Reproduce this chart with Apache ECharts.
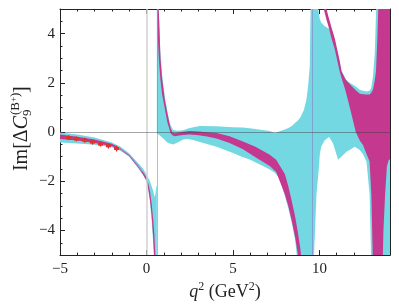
<!DOCTYPE html>
<html><head><meta charset="utf-8">
<script src="https://cdn.jsdelivr.net/npm/echarts@6/dist/echarts.min.js"></script>
<style>html,body{margin:0;padding:0;background:#fff}#c{width:399px;height:308px}</style>
</head><body><div id="c"></div>
<script>
// ---- axis ranges & tick labels ----
const X_MIN = -5, X_MAX = 14.08, Y_MIN = -5, Y_MAX = 5;
const xTickLabels = [-5, 0, 5, 10];
const yTickLabels = [-4, -2, 0, 2, 4];

// ---- cyan band, left branch (q2 below the omega) ----
const cyanLeftX  = [-5, -4, -3, -2, -1.5, -1, -0.5, -0.2, 0, 0.1, 0.2, 0.3, 0.38, 0.44, 0.48, 0.52, 0.56, 0.6];
const cyanLeftHi = [-0.02, -0.1, -0.22, -0.42, -0.6, -0.86, -1.25, -1.48, -1.72, -1.85, -2.0, -2.2, -2.38, -2.55, -2.65, -2.5, -2.25, -2.15];
const cyanLeftLo = [-0.42, -0.47, -0.52, -0.62, -0.76, -1.0, -1.45, -1.75, -2.02, -2.3, -2.8, -3.6, -4.4, -5.2, -5.5, -5.5, -5.5, -5.5];

// ---- cyan band, right part (above the omega) ----
const cyanRightX  = [0.6, 0.64, 0.7, 0.8, 0.9, 1.06, 1.2, 1.35, 1.54, 1.8, 2.12, 2.4, 2.7, 3.08, 4.05, 5.0, 5.58, 5.97, 6.5, 7.13, 7.42, 7.7, 8.0, 8.2, 8.4, 8.6, 8.76, 8.9, 9.1, 9.25, 9.35, 9.44, 9.5, 9.69, 9.83, 9.86, 9.95, 10.02, 10.1, 10.31, 10.56, 10.79, 11.08, 11.27, 11.56, 11.75, 12.04, 12.33, 12.52, 12.72, 12.9, 13.0, 13.1, 13.2, 13.3, 14.1];
const cyanRightHi = [5.5, 5.5, 5.1, 3.3, 2.35, 1.45, 0.9, 0.35, 0.08, 0.05, 0.07, 0.14, 0.2, 0.25, 0.24, 0.2, 0.18, 0.15, 0.1, 0.04, -0.04, 0.03, 0.1, 0.16, 0.25, 0.38, 0.47, 0.6, 0.9, 1.33, 1.9, 2.67, 5.5, 5.5, 5.5, 5.5, 4.9, 4.6, 4.45, 4.3, 4.2, 3.8, 3.15, 2.5, 2.12, 2.0, 1.88, 1.72, 1.68, 1.65, 1.68, 1.8, 2.3, 3.2, 5.5, 5.5];
const cyanRightLo = [-0.05, -0.07, -0.1, -0.16, -0.22, -0.32, -0.42, -0.47, -0.51, -0.42, -0.3, -0.28, -0.32, -0.4, -0.6, -0.85, -1.02, -1.12, -1.3, -1.52, -1.65, -1.88, -2.6, -3.1, -3.7, -4.4, -5.5, -5.5, -5.5, -5.5, -5.5, -5.5, -5.5, -4.93, -2.53, -2.28, -1.6, -0.93, -0.6, -0.33, -0.2, -0.47, -1.13, -1.0, -0.8, -0.73, -0.6, -0.73, -0.9, -1.2, -2.53, -5.5, -5.5, -5.5, -5.5, -5.5];

// ---- magenta band, three branches ----
const magLeftX  = [-5, -4, -3, -2, -1.5, -1, -0.5, -0.2, 0, 0.1, 0.2, 0.3, 0.38, 0.44, 0.5, 0.54];
const magLeftHi = [-0.1, -0.19, -0.3, -0.48, -0.66, -0.92, -1.33, -1.62, -1.85, -2.08, -2.4, -2.9, -3.5, -4.0, -4.8, -5.5];
const magLeftLo = [-0.28, -0.34, -0.44, -0.58, -0.72, -0.98, -1.42, -1.72, -1.97, -2.3, -2.75, -3.4, -4.2, -5.0, -5.5, -5.5];

const magMidX  = [0.62, 0.64, 0.66, 0.72, 0.81, 0.9, 1.06, 1.2, 1.39, 1.5, 1.64, 1.8, 2.0, 2.5, 3.0, 3.5, 4.05, 4.8, 5.58, 6.3, 7.13, 7.5, 8.0, 8.2, 8.4, 8.6, 8.76, 8.9, 9.0];
const magMidHi = [5.5, 5.5, 5.5, 4.8, 3.0, 2.2, 1.3, 0.78, 0.16, -0.02, -0.05, -0.03, 0.0, 0.04, 0.02, -0.01, -0.04, -0.17, -0.38, -0.6, -0.92, -1.13, -1.7, -2.2, -2.8, -3.45, -4.1, -4.75, -5.5];
const magMidLo = [5.5, 5.2, 3.8, 2.9, 2.1, 1.55, 0.95, 0.42, -0.04, -0.13, -0.17, -0.15, -0.13, -0.1, -0.13, -0.18, -0.26, -0.45, -0.7, -1.02, -1.38, -1.62, -2.53, -3.0, -3.6, -4.3, -5.0, -5.5, -5.5];

const magRightX  = [10.2, 10.25, 10.41, 10.5, 10.7, 10.89, 11.17, 11.28, 11.5, 11.71, 11.86, 12.1, 12.34, 12.52, 12.7, 12.9, 13.0, 13.1, 13.2, 13.27, 13.35, 13.42, 13.65, 13.7, 13.8, 13.9, 14.0, 14.1];
const magRightHi = [5.5, 5.5, 5.0, 4.75, 4.25, 3.8, 2.9, 2.46, 2.15, 1.98, 1.87, 1.7, 1.56, 1.54, 1.53, 1.53, 1.6, 1.73, 2.1, 2.46, 3.8, 5.5, 5.5, 5.5, 5.5, 5.5, 5.5, 5.5];
const magRightLo = [5.5, 5.0, 4.55, 4.35, 3.8, 3.35, 2.46, 2.2, 1.7, 1.13, 0.7, 0.0, -0.35, -0.53, -0.85, -1.2, -2.53, -5.5, -5.5, -5.5, -5.5, -5.5, -5.5, -4.0, -2.5, -1.4, -1.15, -1.1];

// ---- thin central line where the bands pinch ----
const centreX = [-1.75, -1.5, -1.0, -0.5, -0.25];
const centreY = [-0.6, -0.69, -0.95, -1.37, -1.62];

// ---- data points with error bars ----
const pointX   = [-4.5, -4.05, -3.57, -3.12, -2.66, -2.2, -1.73];
const pointY   = [-0.23, -0.28, -0.33, -0.41, -0.49, -0.56, -0.67];
const pointErr = [0.1, 0.1, 0.1, 0.1, 0.1, 0.11, 0.12];

// ---- reference lines ----
const zeroQ2 = [0];
const resonanceQ2 = [0.61, 9.59];
const zeroIm = [0];

const CYAN = '#74d8e3', MAGENTA = '#c5388f', RED = '#e2302c', INK = '#222';
const FONT = 'Liberation Serif';
const fmt = v => String(v).replace('-', '\u2212');

function band(xs, lo, hi, color, z) {
  return {
    type: 'custom', z: z, clip: true, silent: true, animation: false,
    data: [[xs[0], lo[0]]],
    renderItem: function (params, api) {
      const pts = [];
      for (let i = 0; i < xs.length; i++) pts.push(api.coord([xs[i], hi[i]]));
      for (let i = xs.length - 1; i >= 0; i--) pts.push(api.coord([xs[i], lo[i]]));
      return { type: 'polygon', shape: { points: pts }, style: { fill: color } };
    }
  };
}

function xAx(pos, major, labels) {
  const a = {
    type: 'value', min: X_MIN, max: X_MAX, position: pos,
    axisLine: { show: major, onZero: false, lineStyle: { color: INK, width: 1 } },
    axisTick: { show: true, inside: true, length: major ? 5 : 2.5, lineStyle: { color: INK, width: 1 } },
    axisLabel: { show: false }, splitLine: { show: false }
  };
  if (major) { a.axisTick.customValues = xTickLabels; }
  else { a.interval = 1; }
  if (labels) {
    a.axisLabel = { show: true, customValues: xTickLabels, formatter: fmt, margin: 6, fontFamily: FONT, fontSize: 15, color: INK };
    a.name = '{i|q}{s|2}{n| (GeV}{s|2}{n|)}';
    a.nameLocation = 'middle';
    a.nameGap = 17;
    a.nameTextStyle = {
      fontFamily: FONT, fontSize: 18, color: INK, lineHeight: 22,
      rich: {
        i: { fontFamily: FONT, fontSize: 18, fontStyle: 'italic', color: INK, lineHeight: 22 },
        n: { fontFamily: FONT, fontSize: 18, color: INK, lineHeight: 22 },
        s: { fontFamily: FONT, fontSize: 12, color: INK, verticalAlign: 'top', lineHeight: 14 }
      }
    };
  }
  return a;
}
function yAx(pos, major, labels) {
  const a = {
    type: 'value', min: Y_MIN, max: Y_MAX, position: pos,
    axisLine: { show: major, onZero: false, lineStyle: { color: INK, width: 1 } },
    axisTick: { show: true, inside: true, length: major ? 5 : 2.5, lineStyle: { color: INK, width: 1 } },
    axisLabel: { show: false }, splitLine: { show: false }
  };
  if (major) { a.axisTick.customValues = yTickLabels; }
  else { a.interval = 0.5; }
  if (labels) {
    a.axisLabel = { show: true, customValues: yTickLabels, formatter: fmt, margin: 5, fontFamily: FONT, fontSize: 15, color: INK };
  }
  return a;
}

const chart = echarts.init(document.getElementById('c'), null, { renderer: 'canvas' });
chart.setOption({
  animation: false,
  grid: { left: 60, right: 9, top: 9, bottom: 50, containLabel: false },
  xAxis: [xAx('bottom', true, true), xAx('bottom', false, false), xAx('top', true, false), xAx('top', false, false)],
  yAxis: [yAx('left', true, true), yAx('left', false, false), yAx('right', true, false), yAx('right', false, false)],
  series: [
    {
      type: 'line', data: [], z: 0, silent: true,
      markLine: {
        silent: true, symbol: 'none', animation: false, label: { show: false },
        data: zeroQ2.map(v => ({ xAxis: v, lineStyle: { color: '#d0d0d0', width: 1.5, type: 'solid' } }))
      }
    },
    band(cyanLeftX, cyanLeftLo, cyanLeftHi, CYAN, 1),
    band(cyanRightX, cyanRightLo, cyanRightHi, CYAN, 1),
    band(magLeftX, magLeftLo, magLeftHi, MAGENTA, 2),
    band(magMidX, magMidLo, magMidHi, MAGENTA, 2),
    band(magRightX, magRightLo, magRightHi, MAGENTA, 2),
    {
      type: 'line', z: 3, silent: true, symbol: 'none', smooth: true,
      data: centreX.map((x, i) => [x, centreY[i]]),
      lineStyle: { color: '#a89ad8', width: 1, opacity: 0.9 }
    },
    {
      type: 'line', data: [], z: 3, silent: true,
      markLine: {
        silent: true, symbol: 'none', animation: false, label: { show: false },
        data: resonanceQ2.map(v => ({ xAxis: v, lineStyle: { color: 'rgba(140,120,200,0.55)', width: 1, type: 'solid' } }))
          .concat(zeroIm.map(v => ({ yAxis: v, lineStyle: { color: 'rgba(60,60,60,0.45)', width: 1, type: 'solid' } })))
      }
    },
    {
      type: 'custom', z: 5, silent: true,
      data: pointX.map((x, i) => [x, pointY[i], pointErr[i]]),
      renderItem: function (params, api) {
        const x = api.value(0), y = api.value(1), e = api.value(2);
        const c = api.coord([x, y]), t = api.coord([x, y + e]), b = api.coord([x, y - e]);
        return { type: 'group', children: [
          { type: 'line', shape: { x1: c[0], y1: t[1], x2: c[0], y2: b[1] }, style: { stroke: RED, lineWidth: 1.3 } },
          { type: 'rect', shape: { x: c[0] - 2.5, y: c[1] - 1.5, width: 5, height: 3 }, style: { fill: RED } }
        ] };
      }
    }
  ],
  graphic: [{
    type: 'group', x: 28, y: 116, rotation: Math.PI / 2, silent: true,
    children: [
      { type: 'text', x: 0, y: -6, style: { text: '{r|Im[Δ}{i|C}', textAlign: 'right', align: 'right', textVerticalAlign: 'middle', verticalAlign: 'middle', fill: INK,
          rich: { r: { fontFamily: FONT, fontSize: 20, fill: INK }, i: { fontFamily: FONT, fontSize: 20, fontStyle: 'italic', fill: INK } } } },
      { type: 'text', x: 0, y: -0.5, style: { text: '9', font: '13px "Liberation Serif"', textAlign: 'left', align: 'left', textVerticalAlign: 'middle', verticalAlign: 'middle', fill: INK } },
      { type: 'text', x: 1, y: -12.5, style: { text: '(B{p|+})', textAlign: 'left', align: 'left', textVerticalAlign: 'middle', verticalAlign: 'middle', fill: INK,
          fontFamily: FONT, fontSize: 13,
          rich: { p: { fontFamily: FONT, fontSize: 9, fill: INK, verticalAlign: 'top' } } } },
      { type: 'text', x: 23, y: -6, style: { text: ']', font: '20px "Liberation Serif"', textAlign: 'left', align: 'left', textVerticalAlign: 'middle', verticalAlign: 'middle', fill: INK } }
    ]
  }]
});
</script></body></html>
